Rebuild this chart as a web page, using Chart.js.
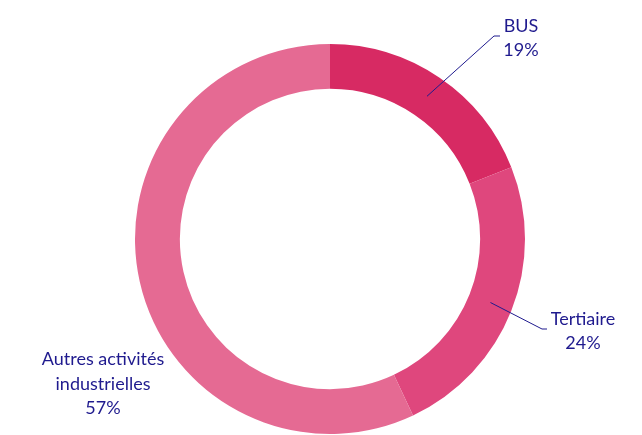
<!DOCTYPE html>
<html>
<head>
<meta charset="utf-8">
<script src="https://cdn.jsdelivr.net/npm/chart.js@4"></script>
<style>
  html, body { margin: 0; padding: 0; background: #fff; }
  #wrap { width: 642px; height: 435px; }
</style>
</head>
<body>
<div id="wrap"><canvas id="donut" width="642" height="435"></canvas></div>
<script>
const categories = ['BUS', 'Tertiaire', 'Autres activités industrielles'];
const shares = [19, 24, 57];
const labelLines = [['BUS', '19%'], ['Tertiaire', '24%'], ['Autres activités', 'industrielles', '57%']];
const colors = ['#d72a63', '#df477d', '#e56a93'];

const textColor = '#1f1a8e';

// callout placement, offsets from the doughnut center
const labelLayout = [
  { elbow: [164, -203], tail: 6, text: [191, -201] },
  { elbow: [212, 90], tail: 5, text: [253, 92] },
  { elbow: null, text: [-227, 145] }
];

const calloutPlugin = {
  id: 'callouts',
  afterDatasetsDraw(chart) {
    const ctx = chart.ctx;
    const meta = chart.getDatasetMeta(0);
    ctx.save();
    ctx.font = '18px Lato, sans-serif';
    ctx.fillStyle = textColor;
    ctx.strokeStyle = textColor;
    ctx.lineWidth = 1;
    ctx.textAlign = 'center';
    ctx.textBaseline = 'middle';
    meta.data.forEach((arc, i) => {
      const p = arc.getProps(['x', 'y', 'startAngle', 'endAngle', 'innerRadius', 'outerRadius'], true);
      const mid = (p.startAngle + p.endAngle) / 2;
      const r = (p.innerRadius + p.outerRadius) / 2;
      const lay = labelLayout[i];
      if (lay.elbow) {
        const ex = p.x + lay.elbow[0];
        const ey = p.y + lay.elbow[1];
        ctx.beginPath();
        ctx.moveTo(p.x + Math.cos(mid) * r, p.y + Math.sin(mid) * r);
        ctx.lineTo(ex, ey);
        ctx.lineTo(ex + lay.tail, ey);
        ctx.stroke();
      }
      const lines = labelLines[i];
      const lh = 24.5;
      const top = p.y + lay.text[1] - (lines.length - 1) * lh / 2;
      lines.forEach((t, k) => ctx.fillText(t, p.x + lay.text[0], top + k * lh));
    });
    ctx.restore();
  }
};

new Chart(document.getElementById('donut'), {
  type: 'doughnut',
  data: {
    labels: categories,
    datasets: [{
      data: shares,
      backgroundColor: colors,
      borderWidth: 0
    }]
  },
  options: {
    responsive: false,
    animation: false,
    cutout: '77%',
    layout: { padding: { top: 44, bottom: 1, left: 135, right: 117 } },
    plugins: {
      legend: { display: false },
      tooltip: { enabled: false }
    }
  },
  plugins: [calloutPlugin]
});
</script>
</body>
</html>
